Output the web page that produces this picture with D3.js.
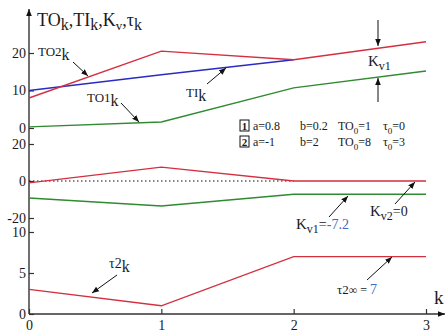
<!DOCTYPE html>
<html>
<head>
<meta charset="utf-8">
<script src="https://cdn.jsdelivr.net/npm/d3@7"></script>
<style>
  body { margin: 0; background: #fff; }
  text { font-family: "Liberation Serif", "Times New Roman", serif; fill: #1a1a1a; }
</style>
</head>
<body>
<div class="svg"></div>
<script>
// values
const kValues = [0, 1, 2, 3];
const to2Values = [8, 20.5, 18.2, 23];
const tiValues = [10, 14.2, 18.2, null];
const to1Values = [0.3, 1.6, 10.7, 15.2];
const kvRedValues = [-1, 7.5, 0, 0];
const kvGreenValues = [-9.2, -13.5, -7.2, -7.2];
const tau2Values = [3, 1, 7, 7];

const xTicks = [0, 1, 2, 3];
const topTicks = [0, 10, 20];
const midTicks = [-20, 0, 20];
const botTicks = [0, 5, 10];

const legendRows = [
  { n: "1", a: "0.8", b: "0.2", to: "1", tau: "0" },
  { n: "2", a: "-1", b: "2", to: "8", tau: "3" },
];

const colors = { red: "#d42f3f", blue: "#2a2ac4", green: "#2f8a30", axis: "#333" };
const serif = '"Liberation Serif", "Times New Roman", serif';
const width = 446, height = 334;

const x = d3.scaleLinear().domain([0, 3]).range([29, 426]);
const yTop = d3.scaleLinear().domain([0, 20]).range([128, 53]);
const yMid = d3.scaleLinear().domain([-20, 20]).range([218, 144]);
const yBot = d3.scaleLinear().domain([0, 10]).range([314, 232]);

const plainNum = d => String(d);

const svg = d3.select(".svg").append("svg")
  .attr("width", width).attr("height", height);

svg.append("defs").append("marker")
  .attr("id", "head")
  .attr("viewBox", "0 0 10 10")
  .attr("refX", 10).attr("refY", 5)
  .attr("markerWidth", 7).attr("markerHeight", 7)
  .attr("markerUnits", "userSpaceOnUse")
  .attr("orient", "auto")
  .append("path").attr("d", "M0,1 L10,5 L0,9 Z").attr("fill", "#111");

function styleAxis(g) {
  g.attr("font-family", serif).attr("font-size", 14);
  g.select(".domain").remove();
  g.selectAll("line").attr("stroke", colors.axis).attr("stroke-width", 1.2);
  g.selectAll("text").attr("fill", "#1a1a1a").style("font-family", serif);
}

function drawYAxis(scale, ticks) {
  svg.append("g")
    .attr("transform", `translate(${x(0)},0)`)
    .call(d3.axisLeft(scale).tickValues(ticks).tickSizeInner(-5).tickSizeOuter(0)
      .tickPadding(3).tickFormat(plainNum))
    .call(styleAxis);
}

function drawLine(scale, values, color) {
  const line = d3.line()
    .defined(d => d !== null)
    .x((d, i) => x(kValues[i]))
    .y(d => scale(d));
  svg.append("path")
    .datum(values)
    .attr("d", line)
    .attr("fill", "none")
    .attr("stroke", color)
    .attr("stroke-width", 1.4);
}

function arrow(x1, y1, x2, y2) {
  svg.append("line")
    .attr("x1", x1).attr("y1", y1).attr("x2", x2).attr("y2", y2)
    .attr("stroke", "#111").attr("stroke-width", 1)
    .attr("marker-end", "url(#head)");
}

// label with a lowered subscript part
function subLabel(px, py, parts, size) {
  const t = svg.append("text").attr("x", px).attr("y", py).attr("font-size", size);
  let shift = 0;
  parts.forEach(p => {
    const dy = (p.sub ? 4 : 0) - shift;
    shift = p.sub ? 4 : 0;
    t.append("tspan").attr("dy", dy).attr("font-size", p.size || size)
      .attr("fill", p.color || null).text(p.t);
  });
  return t;
}

// axes
drawYAxis(yTop, topTicks);
drawYAxis(yMid, midTicks);
drawYAxis(yBot, botTicks);

svg.append("g")
  .attr("transform", `translate(0,${yBot(0)})`)
  .call(d3.axisBottom(x).tickValues(xTicks).tickSizeInner(-5).tickSizeOuter(0)
    .tickPadding(6).tickFormat(plainNum))
  .call(styleAxis);

svg.append("line")
  .attr("x1", x(0)).attr("y1", yBot(0)).attr("x2", 445).attr("y2", yBot(0))
  .attr("stroke", colors.axis).attr("stroke-width", 1.4).attr("marker-end", "url(#head)");
svg.append("line")
  .attr("x1", x(0)).attr("y1", yBot(0)).attr("x2", x(0)).attr("y2", 9)
  .attr("stroke", colors.axis).attr("stroke-width", 1.4).attr("marker-end", "url(#head)");

svg.append("text").attr("x", 434).attr("y", 304).attr("font-size", 19).text("k");

// title
subLabel(37, 26, [
  { t: "TO" }, { t: "k", sub: true, size: 16 }, { t: ",TI" }, { t: "k", sub: true, size: 16 },
  { t: ",K" }, { t: "v", sub: true, size: 13 }, { t: ",τ" }, { t: "k", sub: true, size: 16 },
], 18);

// middle zero reference
svg.append("line")
  .attr("x1", x(0)).attr("y1", yMid(0)).attr("x2", x(2)).attr("y2", yMid(0))
  .attr("stroke", "#111").attr("stroke-width", 1.2).attr("stroke-dasharray", "1.5,2.5");

// series
drawLine(yTop, tiValues, colors.blue);
drawLine(yTop, to2Values, colors.red);
drawLine(yTop, to1Values, colors.green);
drawLine(yMid, kvRedValues, colors.red);
drawLine(yMid, kvGreenValues, colors.green);
drawLine(yBot, tau2Values, colors.red);

// annotations, top panel
subLabel(38, 56, [{ t: "TO2", size: 13 }, { t: "k", sub: true, size: 16 }], 13);
arrow(73, 62, 88, 76);
subLabel(87, 102, [{ t: "TO1", size: 13 }, { t: "k", sub: true, size: 16 }], 13);
arrow(121, 103, 139, 122);
subLabel(186, 97, [{ t: "TI", size: 13 }, { t: "k", sub: true, size: 16 }], 13);
arrow(207, 84, 226, 68);

subLabel(368, 66, [{ t: "K", size: 15 }, { t: "v1", sub: true, size: 12 }], 15);
arrow(378, 20, 378, 46);
arrow(378, 102, 378, 78);

// legend
legendRows.forEach((r, i) => {
  const ly = 130 + i * 16;
  svg.append("rect").attr("x", 240).attr("y", ly - 10).attr("width", 9).attr("height", 11)
    .attr("fill", "none").attr("stroke", "#111").attr("stroke-width", 1);
  svg.append("text").attr("x", 244.5).attr("y", ly).attr("text-anchor", "middle")
    .attr("font-size", 11).attr("font-weight", "bold").text(r.n);
  svg.append("text").attr("x", 253).attr("y", ly).attr("font-size", 12).text(`a=${r.a}`);
  svg.append("text").attr("x", 300).attr("y", ly).attr("font-size", 12).text(`b=${r.b}`);
  subLabel(338, ly, [{ t: "TO" }, { t: "0", sub: true, size: 9 }, { t: `=${r.to}` }], 12);
  subLabel(383, ly, [{ t: "τ" }, { t: "0", sub: true, size: 9 }, { t: `=${r.tau}` }], 12);
});

// annotations, middle panel
subLabel(296, 229, [{ t: "K", size: 15 }, { t: "v1", sub: true, size: 12 },
  { t: "=", size: 14 }, { t: "-7.2", size: 14, color: "#3c6cc0" }], 15);
arrow(329, 217, 348, 196);
subLabel(370, 216, [{ t: "K", size: 15 }, { t: "v2", sub: true, size: 12 }, { t: "=0", size: 14 }], 15);
arrow(395, 204, 415, 182);

// annotations, bottom panel
subLabel(109, 268, [{ t: "τ2", size: 14 }, { t: "k", sub: true, size: 16 }], 14);
arrow(117, 275, 92, 293);
subLabel(337, 294, [{ t: "τ2", size: 13 }, { t: "∞", size: 12 }, { t: " = ", size: 12 }, { t: "7", size: 14, color: "#3c6cc0" }], 13);
arrow(367, 280, 392, 257);
</script>
</body>
</html>
